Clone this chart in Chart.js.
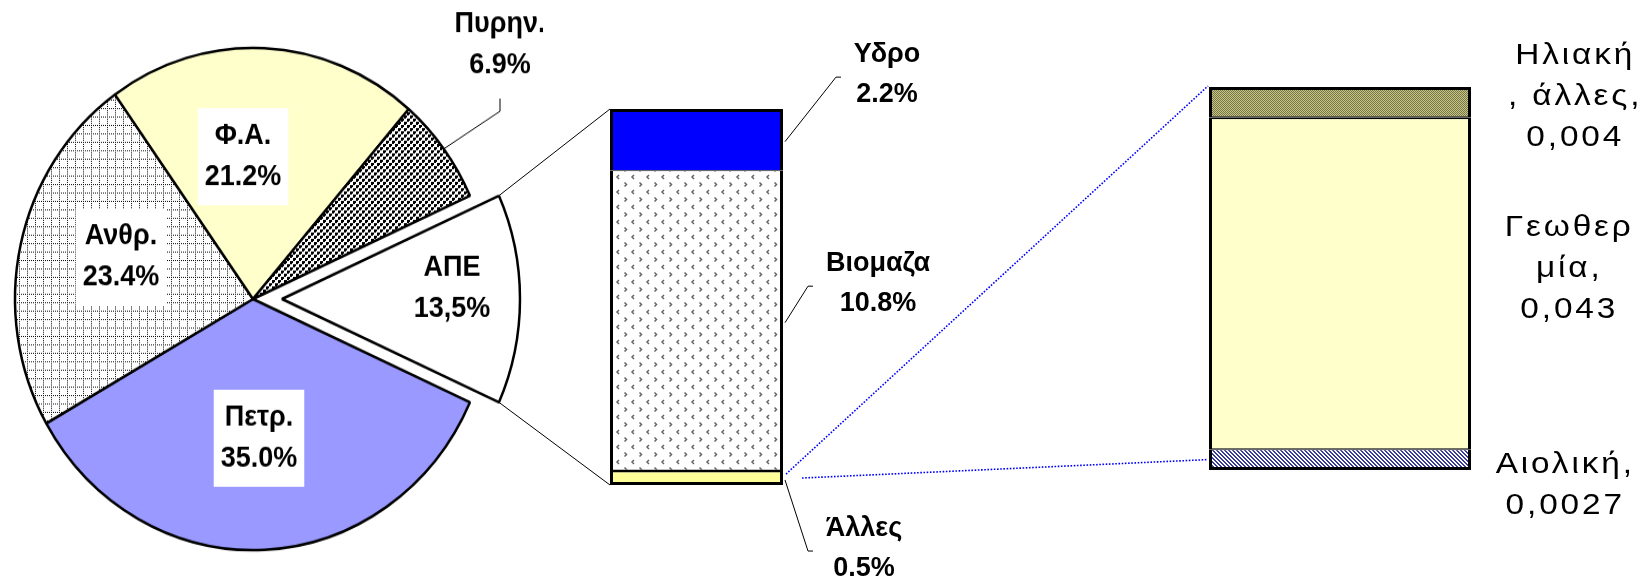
<!DOCTYPE html>
<html>
<head>
<meta charset="utf-8">
<script src="https://cdn.jsdelivr.net/npm/chart.js@4.4.1/dist/chart.umd.min.js"></script>
<style>
  html, body { margin: 0; padding: 0; background: #fff; overflow: hidden; }
  body { width: 1650px; height: 584px; position: relative; }
  .abs { position: absolute; }
  #overlay { left: 0; top: 0; pointer-events: none; }
</style>
</head>
<body>
<div id="pieWrap" class="abs"><canvas id="pie" class="abs"></canvas></div>
<canvas id="bar1" class="abs"></canvas>
<canvas id="bar2" class="abs"></canvas>
<canvas id="overlay" class="abs" width="1650" height="584"></canvas>
<script>
// pie, clockwise starting with the exploded slice
var pieLabels = ['ΑΠΕ', 'Πετρ.', 'Ανθρ.', 'Φ.Α.', 'Πυρην.'];
var pieValues = [13.5, 35.0, 23.4, 21.2, 6.9];
// first bar (split of ΑΠΕ), bottom to top
var apeLabels = ['Άλλες', 'Βιομαζα', 'Υδρο'];
var apeValues = [0.5, 10.8, 2.2];
// second bar (split of Άλλες), bottom to top
var otherLabels = [['Αιολική,'], ['Γεωθερ', 'μία,'], ['Ηλιακή', ', άλλες,']];
var otherValues = [0.0027, 0.043, 0.004];

var STRETCH = 1.055;   // the picture is a little taller than wide
var PIE_BOX = {left: -37, top: 14, width: 580, height: 570};
var BAR1_BOX = {left: 600, top: 99, width: 193, height: 396};
var BAR2_BOX = {left: 1199, top: 77, width: 282, height: 403};
var BOLD = 'bold 27px "Liberation Sans", Arial, sans-serif';
var PLAIN = '29px "Liberation Sans", Arial, sans-serif';

function place(el, box) {
  el.style.left = box.left + 'px';
  el.style.top = box.top + 'px';
  el.style.width = box.width + 'px';
  el.style.height = box.height + 'px';
}
var pieWrap = document.getElementById('pieWrap');
place(pieWrap, PIE_BOX);
pieWrap.style.transform = 'scaleY(' + STRETCH + ')';
var pieCanvas = document.getElementById('pie');
pieCanvas.width = PIE_BOX.width; pieCanvas.height = PIE_BOX.height;
pieCanvas.style.left = '0px'; pieCanvas.style.top = '0px';
var bar1Canvas = document.getElementById('bar1');
bar1Canvas.width = BAR1_BOX.width; bar1Canvas.height = BAR1_BOX.height;
place(bar1Canvas, BAR1_BOX);
var bar2Canvas = document.getElementById('bar2');
bar2Canvas.width = BAR2_BOX.width; bar2Canvas.height = BAR2_BOX.height;
place(bar2Canvas, BAR2_BOX);

function makePattern(ctx, w, h, paint) {
  var c = document.createElement('canvas');
  c.width = w; c.height = h;
  var g = c.getContext('2d');
  paint(g);
  return ctx.createPattern(c, 'repeat');
}

var pieCtx = pieCanvas.getContext('2d');
var dots = makePattern(pieCtx, 6, 6, function (g) {
  g.fillStyle = '#fff'; g.fillRect(0, 0, 6, 6);
  g.fillStyle = '#000';
  g.fillRect(0, 0, 3, 3); g.fillRect(3, 3, 3, 3);
  g.fillStyle = '#fff'; g.fillRect(2, 2, 1, 1); g.fillRect(5, 5, 1, 1);
});
var grid = makePattern(pieCtx, 8, 8, function (g) {
  g.fillStyle = '#fff'; g.fillRect(0, 0, 8, 8);
  g.fillStyle = '#111';
  for (var i = 0; i < 8; i += 2) { g.fillRect(i, 0, 1, 1); g.fillRect(0, i, 1, 1); }
});
var chevrons = makePattern(bar1Canvas.getContext('2d'), 15, 15, function (g) {
  g.fillStyle = '#fff'; g.fillRect(0, 0, 15, 15);
  g.strokeStyle = '#666'; g.lineWidth = 1.5;
  g.beginPath(); g.moveTo(4, 1); g.lineTo(2, 3); g.lineTo(4, 5); g.stroke();
  g.beginPath(); g.moveTo(9.5, 8.5); g.lineTo(11.5, 10.5); g.lineTo(9.5, 12.5); g.stroke();
});
var olive = makePattern(bar2Canvas.getContext('2d'), 2, 2, function (g) {
  g.fillStyle = '#c4c48c'; g.fillRect(0, 0, 2, 2);
  g.fillStyle = '#77773f'; g.fillRect(0, 0, 1, 1); g.fillRect(1, 1, 1, 1);
});
var hatch = makePattern(bar2Canvas.getContext('2d'), 4, 4, function (g) {
  g.fillStyle = '#fff'; g.fillRect(0, 0, 4, 4);
  g.fillStyle = '#3a3a99';
  for (var i = 0; i < 4; i++) { g.fillRect(i, i, 1, 1); g.fillRect((i + 1) % 4, i, 1, 1); }
});

var pieColors = ['#ffffff', '#9999ff', grid, '#ffffcc', dots];
var pieText = pieValues.map(function (v, i) {
  var s = v.toFixed(1);
  return (i === 0 ? s.replace('.', ',') : s) + '%';
});
// label centre from pie centre (unstretched px), white box?
var piePlace = [[199, -10], [6, 132], [-132, -40], [-10, -135], [247, -241]];
var pieBox = [false, true, true, true, false];
var explodeDist = 29;
var pieSum = pieValues.reduce(function (a, b) { return a + b; }, 0);

var pieDecor = {
  id: 'pieDecor',
  beforeDatasetDraw: function (chart, args) {
    var ctx = chart.ctx;
    args.meta.data.forEach(function (arc, i) {
      ctx.save();
      if (i === 0) {
        var h = (arc.startAngle + arc.endAngle) / 2;
        ctx.translate(Math.cos(h) * explodeDist, Math.sin(h) * explodeDist);
      }
      arc.draw(ctx, chart.chartArea);
      ctx.restore();
    });
    return false;
  },
  afterDatasetsDraw: function (chart) {
    var ctx = chart.ctx;
    var arcs = chart.getDatasetMeta(0).data;
    var cx = arcs[0].x, cy = arcs[0].y;
    // leader for Πυρην.
    var a = arcs[4], h = (a.startAngle + a.endAngle) / 2;
    ctx.save();
    ctx.strokeStyle = '#000'; ctx.lineWidth = 1;
    ctx.beginPath();
    ctx.moveTo(cx + Math.cos(h) * a.outerRadius, cy + Math.sin(h) * a.outerRadius);
    ctx.lineTo(cx + 247, cy - 178);
    ctx.lineTo(cx + 247, cy - 190);
    ctx.stroke();
    ctx.font = BOLD; ctx.textAlign = 'center'; ctx.textBaseline = 'middle';
    pieLabels.forEach(function (lab, i) {
      var x = cx + piePlace[i][0], y = cy + piePlace[i][1];
      var lines = [lab, pieText[i]];
      if (pieBox[i]) {
        var w = Math.max(ctx.measureText(lines[0]).width, ctx.measureText(lines[1]).width) + 14;
        ctx.fillStyle = '#fff';
        ctx.fillRect(x - w / 2, y - 46, w, 92);
      }
      ctx.fillStyle = '#000';
      ctx.fillText(lines[0], x, y - 19.5);
      ctx.fillText(lines[1], x, y + 19.5);
    });
    ctx.restore();
  }
};

var pieChart = new Chart(pieCanvas, {
  type: 'pie',
  data: {
    labels: pieLabels,
    datasets: [{
      data: pieValues,
      backgroundColor: pieColors,
      borderColor: '#000',
      borderWidth: 2.5,
      radius: 238
    }]
  },
  options: {
    responsive: false,
    animation: false,
    events: [],
    rotation: 90 - pieValues[0] / pieSum * 180,
    plugins: { legend: { display: false }, tooltip: { enabled: false } }
  },
  plugins: [pieDecor]
});

function stackBar(canvas, labels, values, colors, borders) {
  return new Chart(canvas, {
    type: 'bar',
    data: {
      labels: ['x'],
      datasets: values.map(function (v, i) {
        return {
          label: String(labels[i]),
          data: [v],
          backgroundColor: colors[i],
          borderColor: '#000',
          borderWidth: borders[i],
          borderSkipped: false,
          inflateAmount: 0,
          categoryPercentage: 1,
          barPercentage: 1
        };
      })
    },
    options: {
      responsive: false,
      animation: false,
      events: [],
      layout: { padding: 10 },
      scales: {
        x: { stacked: true, display: false },
        y: { stacked: true, display: false, min: 0, max: values.reduce(function (a, b) { return a + b; }, 0) }
      },
      plugins: { legend: { display: false }, tooltip: { enabled: false } }
    }
  });
}

var bar1 = stackBar(bar1Canvas, apeLabels, apeValues, ['#ffff99', chevrons, '#0000ff'], [
  {top: 1.5, left: 3, right: 3, bottom: 3},
  {top: 1, left: 3, right: 3, bottom: 1.5},
  {top: 3, left: 3, right: 3, bottom: 0}
]);
var bar2 = stackBar(bar2Canvas, otherLabels, otherValues, [hatch, '#ffffcc', olive], [
  {top: 1, left: 3, right: 3, bottom: 3},
  {top: 1.5, left: 3, right: 3, bottom: 1},
  {top: 3, left: 3, right: 3, bottom: 1.5}
]);

// ---- overlay: connectors and bar labels ----
var ov = document.getElementById('overlay').getContext('2d');

function piePage(x, y) {
  return [PIE_BOX.left + x, PIE_BOX.top + PIE_BOX.height / 2 + (y - PIE_BOX.height / 2) * STRETCH];
}
function segs(chart, box) {
  return chart.data.datasets.map(function (d, i) {
    var el = chart.getDatasetMeta(i).data[0];
    return {
      left: box.left + el.x - el.width / 2,
      right: box.left + el.x + el.width / 2,
      top: box.top + el.y,
      bottom: box.top + el.base,
      mid: box.top + (el.y + el.base) / 2
    };
  });
}
var s1 = segs(bar1, BAR1_BOX);
var s2 = segs(bar2, BAR2_BOX);

// pie -> first bar
var ape = pieChart.getDatasetMeta(0).data[0];
var hA = (ape.startAngle + ape.endAngle) / 2;
var ax = ape.x + Math.cos(hA) * explodeDist, ay = ape.y + Math.sin(hA) * explodeDist;
var cTop = piePage(ax + Math.cos(ape.startAngle) * ape.outerRadius, ay + Math.sin(ape.startAngle) * ape.outerRadius);
var cBot = piePage(ax + Math.cos(ape.endAngle) * ape.outerRadius, ay + Math.sin(ape.endAngle) * ape.outerRadius);
ov.strokeStyle = '#000'; ov.lineWidth = 1;
ov.beginPath();
ov.moveTo(cTop[0], cTop[1]); ov.lineTo(s1[2].left, s1[2].top);
ov.moveTo(cBot[0], cBot[1]); ov.lineTo(s1[0].left, s1[0].bottom);
ov.stroke();

// first bar -> second bar (blue dotted)
ov.save();
ov.strokeStyle = '#0000ff'; ov.lineWidth = 1.6; ov.setLineDash([1.6, 1.6]);
ov.beginPath();
ov.moveTo(s1[0].right + 3, s1[0].top + 3); ov.lineTo(s2[2].left - 1, s2[2].top - 1);
ov.moveTo(s1[0].right + 19, s1[0].mid); ov.lineTo(s2[0].left - 1, s2[0].mid);
ov.stroke();
ov.restore();

// first bar labels: [text dx from bar right, text dy from segment middle, elbow dx]
var apePlace = [[81, 70.5, 25], [95, -37, 25], [104, -65, 53]];
ov.font = BOLD; ov.textAlign = 'center'; ov.textBaseline = 'middle'; ov.fillStyle = '#000';
apeLabels.forEach(function (lab, i) {
  var s = s1[i], p = apePlace[i];
  var tx = s.right + p[0], ty = s.mid + p[1];
  ov.beginPath();
  ov.moveTo(s.right + 2, s.mid + 2);
  ov.lineTo(s.right + p[2], ty + 2.5);
  ov.lineTo(s.right + p[2] + 5, ty + 2.5);
  ov.stroke();
  ov.fillText(lab, tx, ty - 20);
  ov.fillText(apeValues[i].toFixed(1) + '%', tx, ty + 20);
});

// second bar labels: [text dx from bar right, first baseline dy from segment middle]
var otherPlace = [[93, 13.5], [97, -48], [103, -38]];
var WIDEN = 1.15;
ov.font = PLAIN; ov.textBaseline = 'alphabetic';
ov.letterSpacing = '2.5px';
otherLabels.forEach(function (lines, i) {
  var s = s2[i], p = otherPlace[i];
  var all = lines.concat([String(otherValues[i]).replace('.', ',')]);
  all.forEach(function (t, k) {
    ov.save();
    ov.translate(s.right + p[0] + 1.25, s.mid + p[1] + k * 41);
    ov.scale(WIDEN, 1);
    ov.fillText(t, 0, 0);
    ov.restore();
  });
});
ov.letterSpacing = '0px';
</script>
</body>
</html>
